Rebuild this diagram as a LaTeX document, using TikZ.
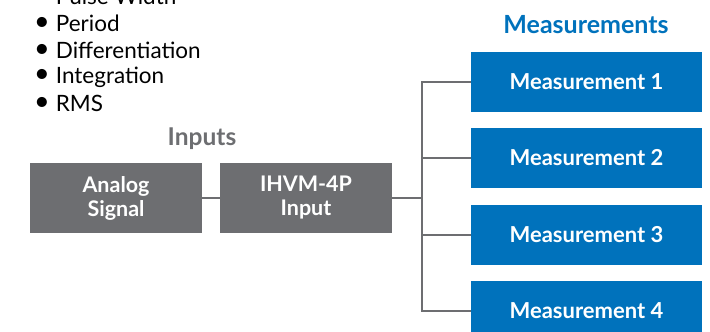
\documentclass[tikz,border=0pt]{standalone}
\usepackage{fontspec}
\setmainfont{Lato}
\usetikzlibrary{positioning}
\definecolor{boxgray}{HTML}{6D6E71}
\definecolor{boxblue}{HTML}{0072BC}
\tikzset{
  inbox/.style={fill=boxgray, text=white, font=\bfseries\fontsize{21.5}{24}\selectfont,
    minimum width=172pt, minimum height=70pt, align=center, inner sep=0pt},
  measbox/.style={fill=boxblue, text=white, font=\bfseries\fontsize{22}{24}\selectfont,
    minimum width=231pt, minimum height=60pt, inner sep=0pt},
  listitem/.style={anchor=west, font=\fontsize{22.5}{26}\selectfont, inner sep=0pt},
  wire/.style={draw=boxgray, line width=2pt}
}
\newcommand{\blt}{\raisebox{1pt}{\scalebox{1.2}{\textbullet}}\hspace{6pt}}

\begin{document}
\begin{tikzpicture}[x=1pt,y=-1pt]
\useasboundingbox (0,0) rectangle (710,332);
\clip (0,0) rectangle (710,332);

% bullet list
\node[listitem] (pw) at (34,-4) {\blt Pulse Width};
\node[listitem] (per) at (34,23) {\blt Period};
\node[listitem] (dif) at (34,50) {\blt Differentiation};
\node[listitem] (int) at (34,77) {\blt Integration};
\node[listitem] (rms) at (34,103) {\blt RMS};

% inputs
\node[text=boxgray, font=\bfseries\fontsize{24.5}{26}\selectfont] (intitle) at (202,139) {Inputs};

\node[inbox] (analog) at (116,198) {Analog\\Signal};

\node[inbox] (ihvm) at (306,198) {IHVM-4P\\Input};

% measurements
\node[text=boxblue, font=\bfseries\fontsize{25}{26}\selectfont] (meastitle) at (586,25) {Measurements};

\node[measbox] (m1) at (586.5,82) {Measurement 1};

\node[measbox] (m2) at (586.5,158) {Measurement 2};

\node[measbox] (m3) at (586.5,234.5) {Measurement 3};

\node[measbox] (m4) at (586.5,311) {Measurement 4};

\coordinate (trunk) at (422,198);

\draw[wire] (analog.east) -- (ihvm.west);

\draw[wire] (ihvm.east) -- (trunk);

\draw[wire] (m1.west) -| (trunk) |- (m4.west);

\draw[wire] (m2.west) -- (m2.west -| trunk);

\draw[wire] (m3.west) -- (m3.west -| trunk);
\end{tikzpicture}
\end{document}
